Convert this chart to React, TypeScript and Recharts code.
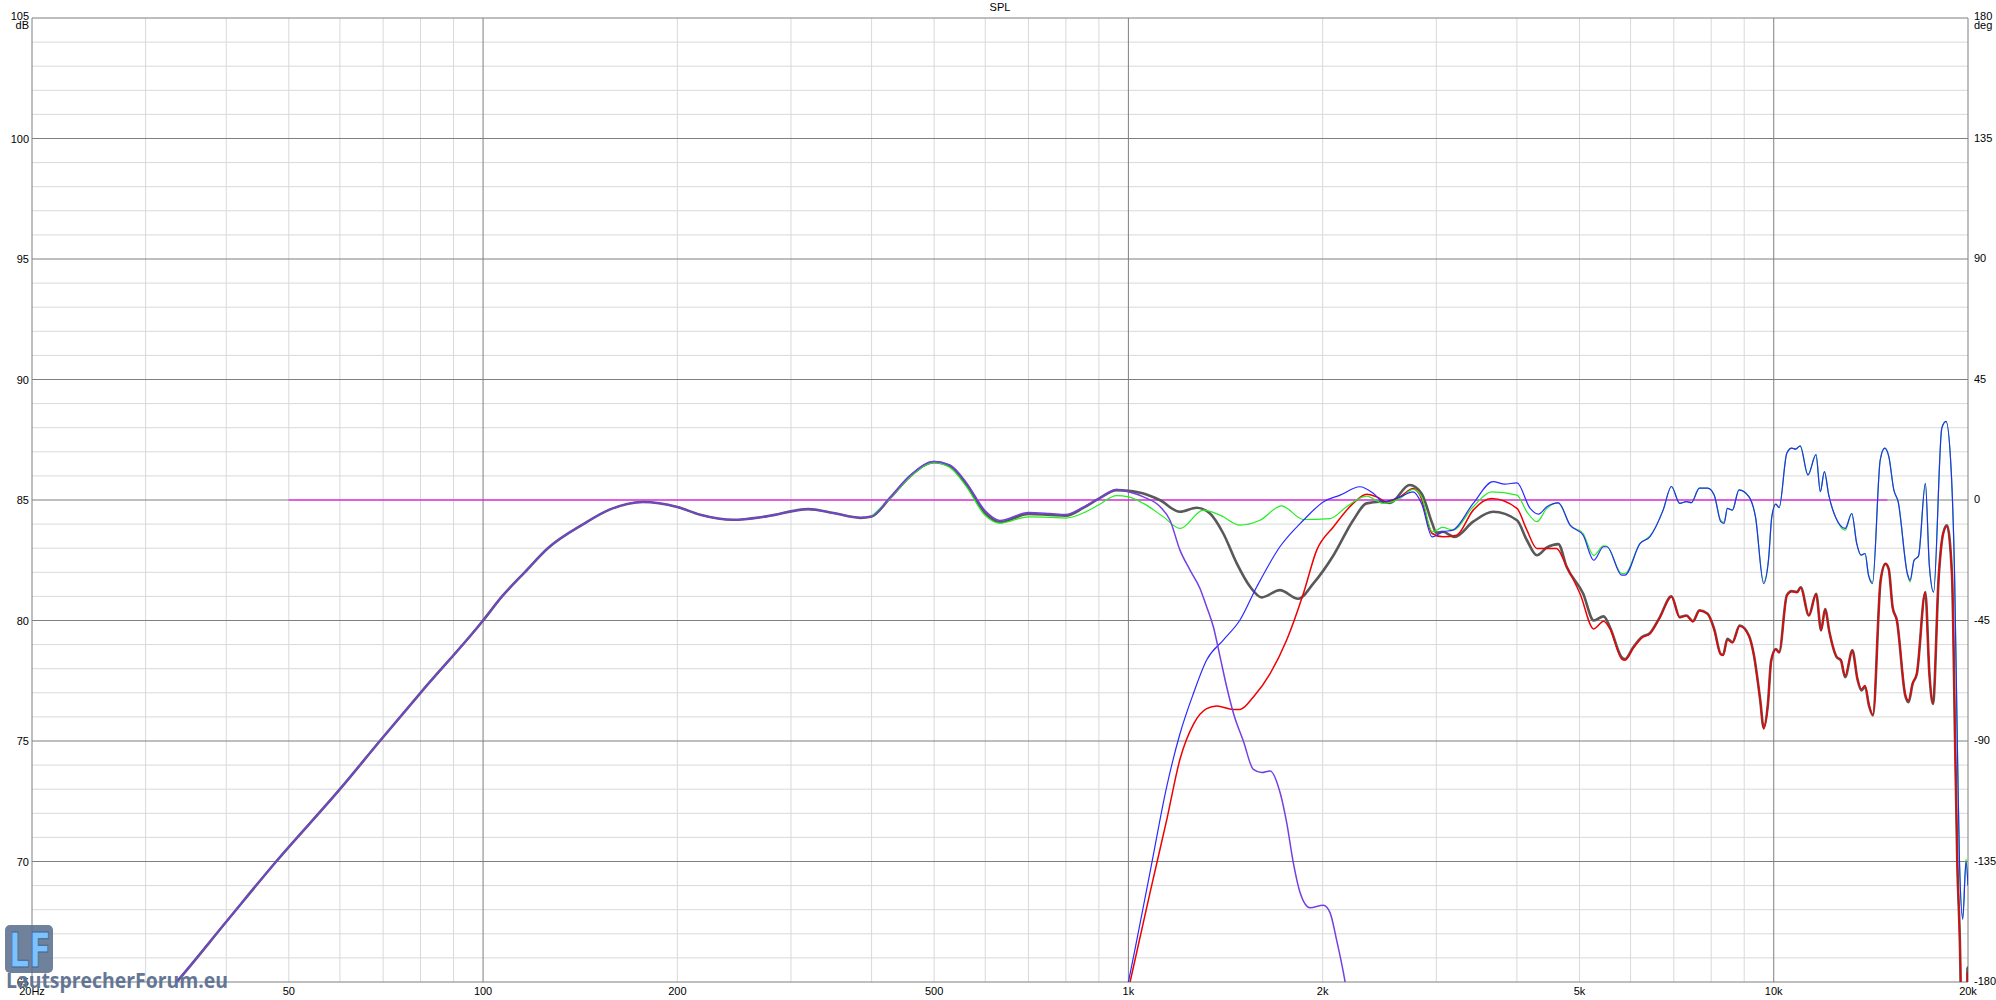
import React from 'react';
import { LineChart, Line, XAxis, YAxis, CartesianGrid } from 'recharts';

const xTicks = [20, 50, 100, 200, 500, 1000, 2000, 5000, 10000, 20000];
const xTickLabels = ['20Hz', '50', '100', '200', '500', '1k', '2k', '5k', '10k', '20k'];
const dbTicks = [65, 70, 75, 80, 85, 90, 95, 100, 105];
const degTicks = [-180, -135, -90, -45, 0, 45, 90, 135, 180];
const minorFreqs = [30, 40, 50, 60, 70, 80, 90, 200, 300, 400, 500, 600, 700, 800, 900, 2000, 3000, 4000, 5000, 6000, 7000, 8000, 9000];
const majorFreqs = [20, 100, 1000, 10000, 20000];
const minorDb = [66, 67, 68, 69, 71, 72, 73, 74, 76, 77, 78, 79, 81, 82, 83, 84, 86, 87, 88, 89, 91, 92, 93, 94, 96, 97, 98, 99, 101, 102, 103, 104];

// summed response (thick gray)
const sumGray: [number, number][] = [
  [20, 58.5], [25, 61.5], [33.5, 65], [40, 67.5], [47.8, 70], [60, 73], [69.2, 75], [80, 77], [100, 80],
  [107, 81], [116, 82], [126, 83], [143, 84], [157, 84.6], [177, 84.92], [200, 84.71], [217, 84.39],
  [244, 84.18], [275, 84.32], [319, 84.62], [349, 84.46], [384, 84.26], [400, 84.32], [427, 85.08],
  [459, 85.99], [500, 86.57], [529, 86.4], [561, 85.64], [600, 84.46], [632, 84.08], [700, 84.42],
  [756, 84.38], [800, 84.35], [851, 84.67], [900, 85.06], [959, 85.41], [1000, 85.38], [1055, 85.27],
  [1120, 84.99], [1202, 84.51], [1276, 84.68], [1338, 84.44], [1403, 83.61], [1472, 82.37], [1544, 81.4],
  [1609, 80.96], [1717, 81.26], [1833, 80.9], [1935, 81.54], [2079, 82.71], [2230, 84.16], [2339, 84.86],
  [2453, 84.93], [2543, 84.88], [2728, 85.62], [2846, 85.27], [2957, 84.03], [3000, 83.64], [3070, 83.68],
  [3203, 83.47], [3422, 84.1], [3674, 84.51], [4000, 84.16], [4145, 83.33], [4295, 82.71], [4451, 83.03],
  [4637, 83.17], [4776, 82.23], [5065, 81.12], [5261, 80.0], [5450, 80.17], [5575, 79.72], [5815, 78.47],
  [5882, 78.4], [6057, 78.89], [6242, 79.31], [6427, 79.47], [6661, 80.14], [6941, 81.0], [7151, 80.14],
  [7322, 80.21], [7496, 79.97], [7671, 80.42], [7898, 80.28], [8085, 79.65], [8278, 78.61], [8347, 78.58],
  [8476, 79.24], [8628, 79.1], [8856, 79.79], [9151, 79.38], [9310, 78.61], [9532, 76.67], [9645, 75.56],
  [9794, 76.53], [9908, 78.33], [10075, 78.82], [10195, 78.68], [10477, 81.04], [10664, 81.22],
  [10868, 81.18], [11009, 81.38], [11336, 80.21], [11633, 81.11], [11841, 79.59], [12011, 80.48],
  [12197, 79.52], [12516, 78.48], [12707, 78.34], [12902, 77.65], [13240, 78.76], [13477, 77.58],
  [13670, 77.1], [13852, 77.26], [14046, 76.47], [14247, 76.06], [14643, 81.66], [14897, 82.35],
  [15071, 82.14], [15283, 80.55], [15518, 80.0], [15986, 76.89], [16178, 76.61], [16412, 77.37],
  [16663, 77.79], [17176, 81.18], [17426, 77.79], [17651, 76.54], [18014, 81.8], [18300, 83.6],
  [18550, 83.95], [18890, 81.9], [19100, 75], [19250, 70], [19480, 65], [19550, 60], [19900, 60],
  [19960, 65.6], [20000, 64],
];

// tweeter (red)
const tweeterRed: [number, number][] = [
  [960, 62.5], [1006, 65], [1080, 68.7], [1147, 71.75], [1202, 74.24], [1261, 75.69], [1322, 76.34],
  [1371, 76.45], [1454, 76.31], [1489, 76.31], [1562, 76.83], [1658, 77.8], [1759, 79.19], [1867, 81.12],
  [1958, 82.92], [2079, 83.89], [2230, 84.86], [2339, 85.24], [2425, 85.13], [2514, 84.93], [2635, 85.13],
  [2762, 85.48], [2830, 85.2], [2957, 83.61], [3070, 83.47], [3225, 83.54], [3422, 84.58], [3654, 85.06],
  [4000, 84.65], [4145, 83.75], [4295, 82.99], [4607, 82.99], [4776, 82.23], [5012, 81.1], [5261, 79.65],
  [5450, 79.97], [5575, 79.65], [5815, 78.4], [5882, 78.35], [6057, 78.85], [6242, 79.28], [6427, 79.45],
  [6661, 80.12], [6941, 81.0], [7151, 80.12], [7322, 80.2], [7496, 79.95], [7671, 80.4], [7898, 80.28],
  [8085, 79.62], [8278, 78.58], [8347, 78.55], [8476, 79.2], [8628, 79.08], [8856, 79.76], [9151, 79.36],
  [9310, 78.6], [9532, 76.65], [9645, 75.5], [9794, 76.5], [9908, 78.3], [10075, 78.8], [10195, 78.66],
  [10477, 81.02], [10664, 81.2], [10868, 81.16], [11009, 81.36], [11336, 80.2], [11633, 81.1],
  [11841, 79.6], [12011, 80.46], [12197, 79.52], [12516, 78.5], [12707, 78.38], [12902, 77.7],
  [13240, 78.76], [13477, 77.6], [13670, 77.15], [13852, 77.3], [14046, 76.5], [14247, 76.1],
  [14643, 81.66], [14897, 82.35], [15071, 82.14], [15283, 80.55], [15518, 80.0], [15986, 76.95],
  [16178, 76.68], [16412, 77.4], [16663, 77.8], [17176, 81.18], [17426, 77.8], [17651, 76.56],
  [18014, 81.8], [18300, 83.6], [18550, 83.9], [18890, 81.9], [19100, 75], [19250, 70], [19480, 65],
  [19550, 60], [19900, 60], [19960, 65.4], [20000, 64],
];

// tweeter (blue)
const tweeterBlue: [number, number][] = [
  [955, 62.5], [1000, 65], [1080, 69.54], [1147, 73.13], [1202, 75.3], [1261, 76.97], [1322, 78.36],
  [1403, 79.19], [1489, 80.02], [1581, 81.4], [1717, 83.06], [1867, 84.16], [2007, 84.93], [2128, 85.2],
  [2284, 85.55], [2398, 85.27], [2483, 84.93], [2635, 85.13], [2762, 85.34], [2846, 84.86], [2957, 83.47],
  [3070, 83.68], [3182, 83.75], [3422, 84.86], [3674, 85.76], [3830, 85.66], [4000, 85.71], [4193, 84.65],
  [4320, 84.41], [4451, 84.72], [4637, 84.88], [4835, 83.96], [5065, 83.54], [5261, 82.5], [5450, 83.06],
  [5515, 83.06], [5815, 81.88], [5882, 81.88], [6205, 83.19], [6427, 83.47], [6739, 84.58], [6941, 85.56],
  [7151, 84.86], [7322, 84.93], [7451, 84.89], [7671, 85.49], [7898, 85.49], [8085, 85.21], [8278, 84.1],
  [8376, 84.03], [8476, 84.65], [8628, 84.58], [8834, 85.42], [9151, 85.14], [9368, 84.31], [9645, 81.53],
  [9815, 82.5], [9932, 84.31], [10075, 84.83], [10195, 84.68], [10477, 86.94], [10664, 87.15],
  [10818, 87.11], [10990, 87.25], [11298, 86.04], [11627, 86.88], [11809, 85.35], [11981, 86.18],
  [12167, 85.21], [12490, 84.24], [12903, 83.82], [13210, 84.44], [13448, 83.19], [13659, 82.71],
  [13856, 82.78], [14022, 81.88], [14224, 81.53], [14624, 86.67], [14858, 87.15], [15075, 86.81],
  [15349, 85.42], [15588, 84.93], [16110, 81.94], [16267, 81.67], [16500, 82.5], [16760, 82.67],
  [17179, 85.69], [17422, 82.29], [17688, 81.18], [18217, 87.99], [18492, 88.26], [18833, 86.25],
  [19070, 81.7], [19250, 75], [19400, 70], [19630, 67.6], [19860, 70], [20000, 69],
];

// second sum (green)
const sumGreen: [number, number][] = [
  [400, 84.32], [427, 85.06], [459, 85.96], [500, 86.55], [529, 86.35], [561, 85.55], [600, 84.35],
  [632, 84.04], [700, 84.3], [756, 84.28], [800, 84.25], [851, 84.46], [900, 84.8], [959, 85.18],
  [1000, 85.13], [1055, 84.86], [1133, 84.3], [1202, 83.82], [1307, 84.58], [1387, 84.37], [1489, 83.96],
  [1599, 84.16], [1727, 84.76], [1867, 84.19], [2054, 84.23], [2178, 84.72], [2339, 85.16], [2483, 84.86],
  [2635, 85.06], [2762, 85.44], [2846, 85.13], [2957, 83.68], [3070, 83.86], [3182, 83.75], [3422, 84.72],
  [3654, 85.34], [4000, 85.2], [4145, 84.51], [4295, 84.1], [4451, 84.65], [4637, 84.88], [4835, 83.96],
  [5065, 83.61], [5261, 82.7], [5450, 83.1], [5515, 83.08], [5815, 81.95], [5882, 81.95], [6205, 83.2],
  [6427, 83.5], [6739, 84.58], [6941, 85.56], [7151, 84.86], [7322, 84.93], [7451, 84.89], [7671, 85.49],
  [7898, 85.49], [8085, 85.21], [8278, 84.15], [8376, 84.08], [8476, 84.65], [8628, 84.58], [8834, 85.42],
  [9151, 85.14], [9368, 84.31], [9645, 81.6], [9815, 82.55], [9932, 84.31], [10075, 84.83], [10195, 84.68],
  [10477, 86.94], [10664, 87.15], [10818, 87.11], [10990, 87.25], [11298, 86.04], [11627, 86.88],
  [11809, 85.35], [11981, 86.18], [12167, 85.21], [12490, 84.24], [12903, 83.75], [13210, 84.44],
  [13448, 83.19], [13659, 82.71], [13856, 82.78], [14022, 81.9], [14224, 81.6], [14624, 86.67],
  [14858, 87.15], [15075, 86.81], [15349, 85.42], [15588, 84.93], [16110, 81.94], [16267, 81.6],
  [16500, 82.5], [16760, 82.67], [17179, 85.69], [17422, 82.29], [17688, 81.18], [18217, 87.99],
  [18492, 88.26], [18833, 86.25], [19070, 81.7], [19250, 75], [19400, 70], [19630, 67.7], [19860, 70.1],
  [20000, 69],
];

// woofer (violet)
const wooferViolet: [number, number][] = [
  [20, 58.5], [25, 61.5], [33.5, 65], [40, 67.5], [47.8, 70], [60, 73], [69.2, 75], [80, 77], [100, 80],
  [107, 81], [116, 82], [126, 83], [143, 84], [157, 84.6], [177, 84.92], [200, 84.71], [217, 84.39],
  [244, 84.18], [275, 84.32], [319, 84.62], [349, 84.46], [384, 84.26], [400, 84.32], [427, 85.1],
  [459, 86.02], [500, 86.6], [529, 86.45], [561, 85.72], [600, 84.55], [632, 84.15], [700, 84.48],
  [756, 84.44], [800, 84.4], [851, 84.7], [900, 85.06], [959, 85.44], [1000, 85.34], [1055, 85.13],
  [1120, 84.72], [1160, 84.16], [1202, 82.92], [1246, 82.09], [1291, 81.33], [1322, 80.57], [1354, 79.74],
  [1387, 78.49], [1420, 77.25], [1455, 76.14], [1507, 75.0], [1562, 73.82], [1609, 73.69], [1658, 73.76],
  [1718, 72.86], [1759, 71.61], [1801, 69.95], [1845, 68.71], [1911, 68.08], [2005, 68.18], [2053, 67.88],
  [2101, 66.77], [2166, 65.03], [2250, 62],
];

// phase reference (magenta, right axis)
const phaseZero: [number, number][] = [[50, 0], [15000, 0]];

const toPts = (arr: [number, number][]) => arr.map(([f, v]) => ({ f, v }));

const FONT = '"Liberation Sans", Arial, sans-serif';

const XTick = (props: any) => {
  const { x, y, payload } = props;
  const i = xTicks.indexOf(payload.value);
  return (
    <text x={x} y={y + 13} textAnchor="middle" fontSize={11} fontFamily={FONT} fill="#000">
      {xTickLabels[i]}
    </text>
  );
};

const LeftTick = (props: any) => {
  const { x, y, payload } = props;
  if (payload.value === 105) {
    return (
      <g>
        <text x={x - 3} y={y + 2} textAnchor="end" fontSize={11} fontFamily={FONT} fill="#000">105</text>
        <text x={x - 3} y={y + 11} textAnchor="end" fontSize={11} fontFamily={FONT} fill="#000">dB</text>
      </g>
    );
  }
  return (
    <text x={x - 3} y={y + 4} textAnchor="end" fontSize={11} fontFamily={FONT} fill="#000">
      {payload.value}
    </text>
  );
};

const RightTick = (props: any) => {
  const { x, y, payload } = props;
  if (payload.value === 180) {
    return (
      <g>
        <text x={x + 6} y={y + 2} textAnchor="start" fontSize={11} fontFamily={FONT} fill="#000">180</text>
        <text x={x + 6} y={y + 11} textAnchor="start" fontSize={11} fontFamily={FONT} fill="#000">deg</text>
      </g>
    );
  }
  return (
    <text x={x + 6} y={y + 3} textAnchor="start" fontSize={11} fontFamily={FONT} fill="#000">
      {payload.value}
    </text>
  );
};

export default function App() {
  return (
    <div style={{ position: 'absolute', left: 0, top: 0, width: 1996, height: 1000, background: '#fff' }}>
      <LineChart width={1996} height={1000} margin={{ top: 18, right: 0, bottom: 0, left: 0 }}>
        <CartesianGrid
          yAxisId="left"
          horizontalValues={minorDb}
          verticalValues={minorFreqs}
          stroke="#d9d9d9"
          strokeWidth={1}
        />
        <CartesianGrid
          yAxisId="left"
          horizontalValues={dbTicks}
          verticalValues={majorFreqs}
          stroke="#7f7f7f"
          strokeWidth={1}
        />
        <XAxis
          dataKey="f"
          type="number"
          scale="log"
          domain={[20, 20000]}
          allowDataOverflow
          ticks={xTicks}
          interval={0}
          height={18}
          tickSize={0}
          tickMargin={0}
          tickLine={false}
          axisLine={false}
          tick={<XTick />}
        />
        <YAxis
          yAxisId="left"
          type="number"
          domain={[65, 105]}
          allowDataOverflow
          ticks={dbTicks}
          interval={0}
          width={32}
          tickSize={0}
          tickMargin={0}
          tickLine={false}
          axisLine={false}
          tick={<LeftTick />}
        />
        <YAxis
          yAxisId="right"
          orientation="right"
          type="number"
          domain={[-180, 180]}
          allowDataOverflow
          ticks={degTicks}
          interval={0}
          width={28}
          tickSize={0}
          tickMargin={0}
          tickLine={false}
          axisLine={false}
          tick={<RightTick />}
        />
        <Line yAxisId="right" data={toPts(phaseZero)} dataKey="v" type="linear" stroke="#ff00ff" strokeWidth={1.2} dot={false} isAnimationActive={false} />
        <Line yAxisId="left" data={toPts(sumGray)} dataKey="v" type="monotone" stroke="#595959" strokeWidth={2.6} dot={false} isAnimationActive={false} />
        <Line yAxisId="left" data={toPts(tweeterRed)} dataKey="v" type="monotone" stroke="#f00000" strokeWidth={1.5} dot={false} isAnimationActive={false} />
        <Line yAxisId="left" data={toPts(sumGreen)} dataKey="v" type="monotone" stroke="#22ee22" strokeWidth={1.2} dot={false} isAnimationActive={false} />
        <Line yAxisId="left" data={toPts(tweeterBlue)} dataKey="v" type="monotone" stroke="#2a2aff" strokeWidth={1.2} dot={false} isAnimationActive={false} />
        <Line yAxisId="left" data={toPts(wooferViolet)} dataKey="v" type="monotone" stroke="#7440e4" strokeWidth={1.5} dot={false} isAnimationActive={false} />
      </LineChart>
      <svg width={1996} height={1000} style={{ position: 'absolute', left: 0, top: 0, pointerEvents: 'none' }}>
        <text x={1000} y={11} textAnchor="middle" fontSize={11} fontFamily={FONT} fill="#000">SPL</text>
        <rect x={5} y={925} width={48} height={48} rx={5} fill="#5c6f8e" opacity={0.88} />
        <text x={9} y={967} fontSize={48} fontWeight="bold" fontFamily='"DejaVu Sans", sans-serif' fill="#7cc2ff" stroke="#3f6694" strokeWidth={1} textLength={42} lengthAdjust="spacingAndGlyphs">LF</text>
        <text x={6} y={988} fontSize={21} fontWeight="bold" fontFamily='"Open Sans", sans-serif' fill="#5d7090" opacity={0.95} textLength={222} lengthAdjust="spacingAndGlyphs">LautsprecherForum.eu</text>
      </svg>
    </div>
  );
}
